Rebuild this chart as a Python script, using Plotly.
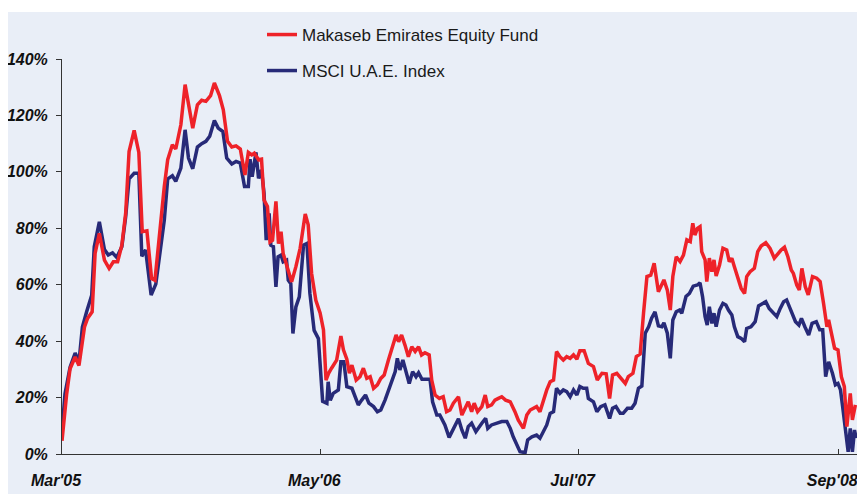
import pandas as pd
import plotly.graph_objects as go

START = "2005-03-01"

# weeks since start / cumulative return (%)
fund_weeks = [0, 1.1, 1.9, 3.1, 4.0, 5.3, 6.0, 7.1, 7.8, 8.8, 10.0, 11.1, 12.1, 13.1, 14.1, 15.0, 15.8, 17.0, 18.1, 18.9,
              20.0, 21.1, 21.9, 23.1, 24.1, 24.9, 26.0, 26.8, 28.0, 29.0, 29.8, 30.8, 31.9, 32.9, 33.9, 35.0, 35.9, 37.1,
              38.0, 39.0, 40.0, 41.0, 42.0, 43.1, 43.9, 44.7, 45.3, 46.3, 47.0, 47.6, 48.4, 49.0, 49.6, 50.4, 51.0, 51.6,
              52.1, 52.9, 54.1, 55.1, 56.1, 57.3, 58.0, 58.8, 59.8, 60.8, 61.6, 62.2, 62.8, 63.5, 64.7, 65.7, 66.3, 67.1,
              67.7, 68.3, 69.3, 70.2, 71.0, 71.8, 72.6, 73.4, 74.3, 75.1, 75.9, 76.9, 78.1, 78.7, 79.3, 80.0, 80.8, 81.6,
              82.4, 83.2, 84.0, 84.7, 85.5, 86.5, 87.1, 87.9, 88.9, 89.8, 90.6, 91.4, 92.2, 93.4, 94.2, 95.0, 95.7, 96.5,
              97.1, 97.9, 98.9, 99.7, 100.3, 101.2, 102.0, 102.8, 103.6, 104.5, 105.6, 106.7, 107.5, 108.7, 109.5, 110.3,
              111.0, 111.8, 112.6, 113.4, 114.2, 115.0, 115.8, 116.5, 117.3, 118.1, 118.9, 119.7, 120.5, 121.3, 122.0,
              123.0, 124.0, 125.2, 126.1, 127.2, 128.2, 129.0, 129.7, 130.7, 131.6, 132.7, 133.4, 134.5, 135.3, 136.2,
              137.0, 137.8, 138.7, 139.5, 140.5, 141.1, 141.8, 142.6, 143.3, 143.9, 144.7, 145.6, 146.4, 147.2, 148.0,
              148.6, 149.1, 149.7, 150.3, 150.7, 151.5, 151.9, 152.5, 153.1, 153.6, 154.1, 154.9, 155.7, 156.6, 157.2,
              157.8, 158.4, 159.2, 160.0, 160.8, 161.3, 162.1, 163.1, 163.9, 164.7, 165.8, 166.8, 167.8, 168.6, 169.4,
              170.2, 171.0, 171.8, 172.3, 173.1, 173.7, 174.3, 175.1, 175.8, 176.8, 177.8, 178.6, 179.4, 180.2, 180.6,
              181.2, 182.0, 182.8, 183.6, 184.3, 184.9, 185.7, 186.2, 186.9]
fund_values = [4.7, 21.3, 30.2, 34.4, 31.4, 45.0, 48.0, 50.4, 71.1, 78.2, 68.7, 65.8, 68.1, 68.1, 74.0, 85.3, 107.2, 114.7,
               106.9, 78.8, 79.1, 62.2, 61.6, 80.6, 94.8, 104.3, 109.6, 108.1, 116.7, 130.9, 123.2, 115.5, 123.8, 125.4,
               125.0, 127.0, 131.5, 127.0, 122.0, 110.8, 108.8, 109.2, 108.1, 98.9, 106.9, 106.0, 106.6, 104.3, 104.5,
               90.0, 87.7, 75.2, 75.8, 89.5, 74.6, 78.8, 71.1, 66.9, 61.0, 66.4, 72.9, 85.1, 81.2, 64.0, 54.5, 50.0,
               44.0, 26.2, 28.6, 30.4, 33.3, 41.8, 36.9, 33.6, 28.6, 31.5, 26.2, 27.4, 30.4, 26.8, 27.4, 23.3, 24.5,
               26.8, 28.0, 33.3, 38.6, 42.2, 39.8, 42.2, 38.6, 34.5, 38.0, 36.3, 38.0, 35.1, 35.9, 35.1, 26.2, 20.9,
               19.7, 20.3, 15.0, 15.6, 18.0, 20.3, 13.8, 16.2, 18.5, 15.0, 18.0, 15.0, 16.8, 20.9, 16.8, 17.4, 19.1,
               19.7, 20.3, 19.1, 18.5, 15.0, 12.0, 9.1, 13.8, 15.6, 16.2, 16.8, 15.0, 19.1, 22.7, 25.6, 26.2, 36.3,
               34.5, 33.3, 34.5, 33.9, 35.1, 33.6, 36.6, 36.6, 32.1, 31.0, 26.2, 28.6, 28.4, 19.7, 28.0, 28.6, 26.8,
               25.0, 27.4, 28.6, 34.5, 35.4, 49.9, 62.9, 63.4, 67.6, 57.5, 59.3, 61.7, 58.1, 51.0, 62.9, 69.9, 68.2,
               70.5, 75.9, 75.3, 81.8, 77.6, 80.0, 80.6, 71.7, 68.8, 61.1, 69.4, 64.6, 68.8, 63.1, 67.0, 72.9, 72.3,
               68.2, 69.4, 66.4, 62.3, 58.7, 56.9, 62.9, 64.6, 65.8, 71.7, 73.7, 74.9, 72.9, 69.4, 71.1, 72.3, 73.3,
               69.9, 65.2, 64.0, 59.9, 58.1, 65.8, 59.3, 56.4, 62.9, 62.3, 61.1, 53.4, 45.1, 47.5, 42.8, 37.5, 36.9,
               27.4, 23.9, 9.7, 21.5, 12.1, 17.4]

index_weeks = [0, 0.7, 1.9, 3.1, 4.0, 4.8, 5.8, 7.0, 7.6, 8.8, 10.0, 10.9, 11.9, 12.9, 14.1, 15.0, 15.8, 17.0, 18.1, 18.8,
               19.7, 21.0, 22.1, 23.3, 24.1, 24.9, 26.0, 26.8, 28.0, 29.0, 29.8, 30.8, 31.9, 32.9, 33.9, 34.8, 35.9, 36.8,
               37.9, 38.8, 40.0, 41.0, 42.0, 43.0, 43.9, 44.3, 44.8, 45.7, 46.3, 47.0, 47.6, 48.1, 48.8, 49.2, 49.8, 50.4,
               50.9, 51.6, 52.1, 52.9, 53.3, 53.9, 54.4, 55.1, 55.9, 56.9, 57.7, 58.4, 59.4, 60.4, 61.4, 62.4, 62.7, 63.2,
               63.9, 65.1, 65.7, 66.4, 67.1, 68.3, 69.0, 69.8, 70.6, 71.5, 72.3, 73.4, 74.3, 75.1, 76.1, 77.3, 78.5, 79.0,
               79.6, 80.3, 81.1, 81.8, 82.6, 83.4, 84.0, 84.8, 85.8, 86.7, 87.3, 88.3, 89.0, 89.7, 90.2, 91.2, 92.2, 93.4,
               94.2, 95.0, 95.7, 96.5, 97.5, 98.2, 98.9, 99.8, 100.3, 101.2, 102.4, 103.6, 104.8, 105.6, 106.3, 107.1,
               107.9, 109.1, 109.7, 110.7, 111.8, 112.6, 113.4, 114.2, 115.0, 115.8, 116.5, 117.3, 118.1, 118.9, 119.7,
               120.5, 121.3, 122.0, 122.8, 123.6, 124.0, 125.2, 126.0, 126.9, 127.9, 129.0, 129.7, 130.5, 131.5, 132.2,
               133.2, 134.2, 135.0, 135.8, 136.6, 137.4, 138.2, 138.9, 139.7, 140.5, 141.3, 141.8, 142.6, 143.3, 143.9,
               144.7, 145.5, 146.0, 147.0, 147.8, 148.7, 149.7, 150.3, 150.9, 151.5, 152.0, 152.5, 153.1, 153.6, 154.1,
               154.9, 155.7, 156.4, 157.0, 157.8, 158.4, 159.2, 160.0, 160.8, 161.3, 162.3, 163.3, 164.1, 165.0, 165.8,
               166.6, 167.6, 168.4, 169.2, 170.0, 170.7, 171.4, 172.0, 172.8, 173.6, 174.2, 175.0, 175.9, 176.7, 177.7,
               178.5, 179.2, 179.9, 180.6, 181.5, 182.2, 182.8, 183.4, 183.9, 184.6, 185.2, 185.7, 186.2, 186.7, 187.1]
index_values = [8.0, 21.3, 30.8, 35.8, 32.6, 45.0, 50.4, 56.3, 73.5, 82.3, 72.5, 70.5, 71.3, 69.7, 73.5, 84.1, 97.5, 99.5,
                99.5, 70.1, 72.3, 56.3, 60.2, 73.5, 82.9, 97.5, 98.6, 96.6, 101.3, 114.9, 104.9, 101.1, 108.8, 110.0,
                110.8, 112.6, 118.2, 115.5, 114.3, 104.9, 102.8, 103.7, 103.1, 94.8, 94.8, 104.5, 98.3, 106.9, 97.7,
                100.7, 92.4, 75.8, 85.3, 74.0, 73.5, 59.2, 69.9, 70.5, 68.1, 68.7, 61.6, 60.4, 42.7, 52.1, 55.7, 74.0,
                74.6, 56.9, 43.8, 40.9, 18.7, 18.0, 25.6, 19.0, 21.5, 22.7, 32.7, 32.7, 23.9, 23.3, 20.3, 17.4, 19.1,
                20.9, 18.0, 16.8, 15.0, 15.6, 19.1, 23.9, 29.2, 33.9, 29.8, 33.3, 28.6, 25.0, 29.2, 27.4, 28.8, 26.5,
                26.5, 26.5, 18.5, 13.8, 13.8, 12.0, 10.3, 5.9, 9.1, 12.5, 8.5, 5.6, 9.7, 10.9, 7.9, 9.7, 10.9, 12.6,
                9.1, 10.3, 10.9, 11.5, 11.5, 9.1, 6.1, 3.2, 0.8, 0.5, 5.0, 6.1, 6.7, 5.6, 7.9, 10.3, 14.4, 15.0, 23.3,
                21.5, 22.7, 22.1, 20.3, 22.7, 20.9, 23.9, 23.3, 23.3, 19.7, 18.5, 15.0, 16.8, 17.4, 12.6, 16.2, 16.8,
                14.4, 14.4, 16.2, 16.2, 18.0, 23.3, 24.1, 42.8, 45.1, 48.1, 50.4, 45.4, 45.1, 46.5, 42.8, 33.9, 47.5,
                50.4, 51.0, 49.9, 55.8, 56.9, 59.5, 59.9, 60.7, 55.8, 48.7, 45.7, 52.2, 46.3, 49.9, 45.1, 51.0, 53.4,
                52.8, 51.0, 49.3, 45.1, 41.6, 41.0, 39.8, 44.5, 45.1, 46.9, 52.5, 53.2, 54.0, 51.6, 49.9, 48.7, 51.6,
                54.0, 54.6, 52.2, 49.9, 46.9, 45.7, 48.1, 45.1, 42.2, 46.3, 46.9, 44.0, 44.0, 27.4, 32.7, 28.6, 24.5,
                25.0, 22.7, 16.8, 8.5, 0.8, 9.1, 0.8, 8.5, 5.6]

tick_dates = ["2005-03-01", "2006-05-01", "2007-07-01", "2008-09-01"]
tick_labels = ["Mar'05", "May'06", "Jul'07", "Sep'08"]
y_ticks = [0, 20, 40, 60, 80, 100, 120, 140]
y_labels = ["0%", "20%", "40%", "60%", "80%", "100%", "120%", "140%"]

start = pd.Timestamp(START)
fund_dates = [start + pd.Timedelta(days=w * 7) for w in fund_weeks]
index_dates = [start + pd.Timedelta(days=w * 7) for w in index_weeks]

RED = "#ee2229"
NAVY = "#272a78"
BG = "#e9eef7"

fig = go.Figure()
fig.add_trace(go.Scatter(x=index_dates, y=index_values, mode="lines", name="MSCI U.A.E. Index",
                         line=dict(color=NAVY, width=3.5), legend="legend2"))
fig.add_trace(go.Scatter(x=fund_dates, y=fund_values, mode="lines", name="Makaseb Emirates Equity Fund",
                         line=dict(color=RED, width=3.5), legend="legend"))

# the page body adds an 8px offset; figure drawn from (8,8) to (865,494)
W, H = 857, 486
L, R, T, B = 54, 8, 51, 40
pw = W - L - R
ph = H - T - B

# thin white strip at the very top (as in the reference)
fig.add_shape(type="rect", xref="paper", yref="paper",
              x0=-L / pw - 0.02, x1=1 + R / pw + 0.02,
              y0=1 + (T - 4) / ph, y1=1 + (T + 2) / ph,
              fillcolor="white", line=dict(width=0), layer="below")

tick_font = dict(family="Arial, Liberation Sans, sans-serif", color="#111111", weight="bold", style="italic")
leg_font = dict(family="Liberation Sans, Arial, sans-serif", size=17, color="#1a1a1a")

fig.update_layout(
    width=W, height=H,
    margin=dict(l=L, r=R, t=T, b=B, autoexpand=False),
    paper_bgcolor=BG,
    plot_bgcolor=BG,
    showlegend=True,
    legend=dict(xref="container", yref="container", x=254 / W, y=1 - 27 / H,
                xanchor="left", yanchor="middle", bgcolor="rgba(0,0,0,0)", font=leg_font),
    legend2=dict(xref="container", yref="container", x=254 / W, y=1 - 63 / H,
                 xanchor="left", yanchor="middle", bgcolor="rgba(0,0,0,0)", font=leg_font),
    xaxis=dict(type="date", range=[start, start + pd.Timedelta(days=1311)],
               tickvals=tick_dates, ticktext=tick_labels, showgrid=False, zeroline=False,
               showline=True, linecolor="#333333", linewidth=1,
               ticks="inside", ticklen=5, tickcolor="#333333", tickwidth=1,
               tickfont=dict(size=16, **tick_font), ticklabelstandoff=12, ticklabelshift=-6,
               ticklabeloverflow="allow"),
    yaxis=dict(range=[0, 140], tickvals=y_ticks, ticktext=y_labels, showgrid=False, zeroline=False,
               showline=True, linecolor="#333333", linewidth=1,
               ticks="outside", ticklen=5, tickcolor="#333333", tickwidth=1,
               tickfont=dict(size=16, **tick_font), ticklabelstandoff=5,
               ticklabeloverflow="allow"),
)

fig.write_html("out.html")
